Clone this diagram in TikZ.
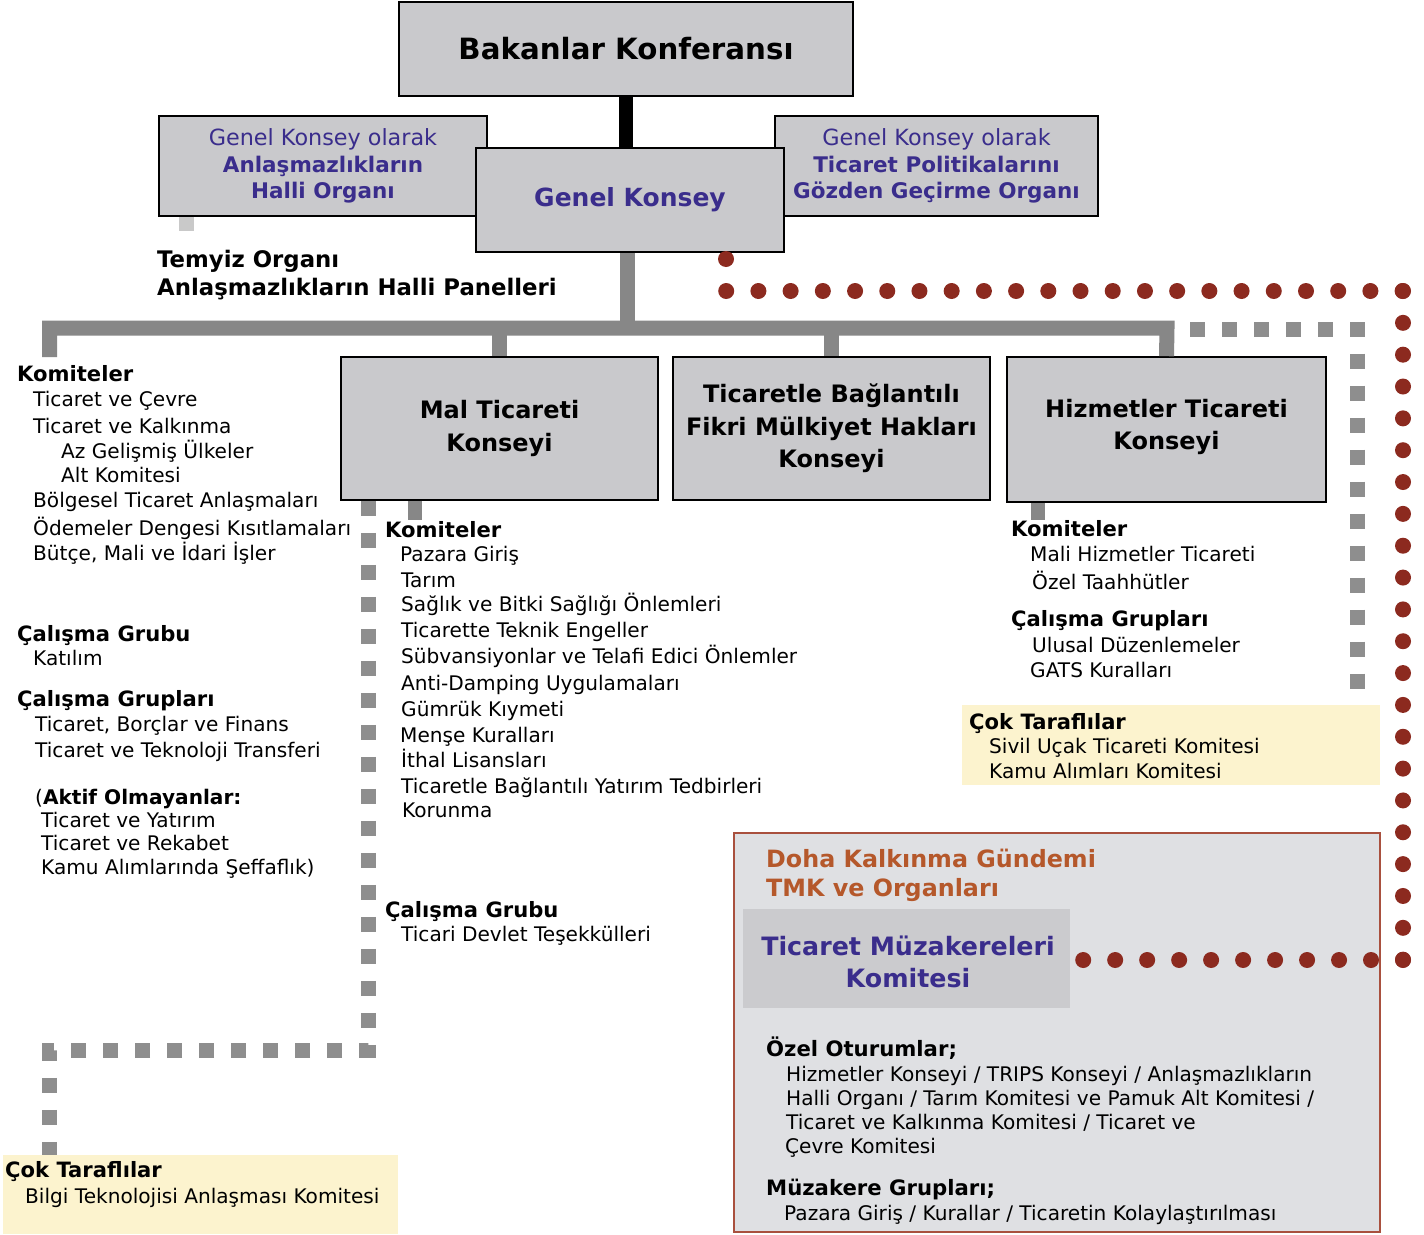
\documentclass[tikz,border=0pt]{standalone}
\usepackage{fontspec}
\setmainfont{DejaVu Sans}
\definecolor{boxgray}{HTML}{C9C9CC}
\definecolor{bargray}{HTML}{878787}
\definecolor{sqgray}{HTML}{8E8E8E}
\definecolor{stubgray}{HTML}{C9C9C9}
\definecolor{purp}{HTML}{3A2D8C}
\definecolor{dotred}{HTML}{8C2A1F}
\definecolor{dohabrown}{HTML}{B5582B}
\definecolor{dohaborder}{HTML}{A9503E}
\definecolor{dohafill}{HTML}{DFE0E3}
\definecolor{tmkfill}{HTML}{CBCBCE}
\definecolor{ylw}{HTML}{FCF3CE}
\begin{document}
\begin{tikzpicture}[x=1pt,y=-1pt,
 box/.style={draw=black,line width=1.6pt,fill=boxgray,inner sep=0,align=center,text=black},
 ttl/.style={font=\bfseries\fontsize{24}{32.5}\selectfont},
 txt/.style={anchor=base west,inner sep=0,font=\fontsize{20.1}{24}\selectfont},
 hd/.style={anchor=base west,inner sep=0,font=\bfseries\fontsize{21.1}{24}\selectfont},
 dtx/.style={anchor=base west,inner sep=0,font=\fontsize{20.1}{24}\selectfont},
 dhd/.style={anchor=base west,inner sep=0,font=\bfseries\fontsize{21.2}{24}\selectfont},
 bar/.style={draw=bargray,line width=15pt},
 sq/.style={draw=sqgray,line width=15pt,dash pattern=on 15pt off 17pt},
 dotline/.style={draw=dotred,line width=16pt,line cap=round,dash pattern=on 0pt off #1}
]
\useasboundingbox[fill=white] (0,0) rectangle (1424,1234);

% ---------- top boxes ----------
\node[box,minimum width=454,minimum height=94,font=\bfseries\fontsize{29.3}{34}\selectfont] (bk) at (626,49) {Bakanlar Konferansı};
\node[box,minimum width=328,minimum height=100,text=purp,font=\fontsize{22.3}{26.5}\selectfont] (dsb) at (323,166) {Genel Konsey olarak\\{\bfseries\fontsize{21.5}{26.5}\selectfont Anlaşmazlıkların}\\{\bfseries\fontsize{21.5}{26.5}\selectfont Halli Organı}};
\node[box,minimum width=323,minimum height=100,text=purp,font=\fontsize{22.3}{26.5}\selectfont] (tprb) at (936.5,166) {Genel Konsey olarak\\{\bfseries\fontsize{21.5}{26.5}\selectfont Ticaret Politikalarını}\\{\bfseries\fontsize{21.5}{26.5}\selectfont Gözden Geçirme Organı}};
\node[box,minimum width=308,minimum height=104,text=purp,font=\bfseries\fontsize{25}{30}\selectfont] (gk) at (630,200) {Genel Konsey};
\draw[line width=14pt,black] (bk.south) -- (bk.south |- gk.north);

% ---------- council boxes ----------
\node[box,ttl,minimum width=317,minimum height=143] (mal) at (499.5,428.5) {Mal Ticareti\\Konseyi};
\node[box,ttl,minimum width=317,minimum height=143] (trips) at (831.5,428.5) {Ticaretle Bağlantılı\\Fikri Mülkiyet Hakları\\Konseyi};
\node[box,ttl,minimum width=319,minimum height=145,text depth=10pt] (hiz) at (1166.5,429.5) {Hizmetler Ticareti\\Konseyi};

% ---------- gray tree ----------
\coordinate (jn) at (627,328);
\coordinate (lk) at (49.5,357);
\coordinate (rk) at (1167,328);
\draw[bar] (gk.south -| jn) -- (jn);
\draw[bar,line join=miter] (lk) -- (lk |- jn) -- (rk) -- (hiz.north);
\draw[bar] (mal.north |- jn) -- (mal.north);
\draw[bar] (trips.north |- jn) -- (trips.north);

% Temyiz stub
\coordinate (ts) at (186.5,231);
\draw[draw=stubgray,line width=15pt] (dsb.south -| ts) -- (ts);
\node[hd,font=\bfseries\fontsize{22.8}{24}\selectfont] (tem1) at (157,267) {Temyiz Organı};
\node[hd,font=\bfseries\fontsize{22.8}{24}\selectfont] (tem2) at (157,295) {Anlaşmazlıkların Halli Panelleri};

% stubs under councils
\coordinate (mk) at (415,520);
\draw[bar,line width=14pt] (mal.south -| mk) -- (mk);
\coordinate (hk) at (1038,520);
\draw[bar,line width=14pt] (hiz.south -| hk) -- (hk);

% ---------- square dashed connectors ----------
\coordinate (sq1) at (1190,329);
\coordinate (sq2) at (1357.5,329);
\coordinate (sq3) at (1357.5,690);
\draw[sq] (sq1) -- (sq2) -- (sq3);
\coordinate (sl2) at (368.5,1050.5);
\coordinate (sl3) at (49.5,1050.5);
\coordinate (sl4) at (49.5,1155);
\draw[sq] (mal.south -| sl2) -- (sl2) -- (sl3) -- (sl4);

% ---------- left column ----------
\node[hd] (lk0) at (17,381) {Komiteler};
\node[txt] (lk1) at (33,406) {Ticaret ve Çevre};
\node[txt] (lk2) at (33,433) {Ticaret ve Kalkınma};
\node[txt] (lk3) at (61,458) {Az Gelişmiş Ülkeler};
\node[txt] (lk4) at (61,482) {Alt Komitesi};
\node[txt] (lk5) at (33,507) {Bölgesel Ticaret Anlaşmaları};
\node[txt] (lk6) at (33,535) {Ödemeler Dengesi Kısıtlamaları};
\node[txt] (lk7) at (33,560) {Bütçe, Mali ve İdari İşler};
\node[hd] (lg0) at (17,641) {Çalışma Grubu};
\node[txt] (lg1) at (33,665) {Katılım};
\node[hd] (lw0) at (17,706) {Çalışma Grupları};
\node[txt] (lw1) at (35,731) {Ticaret, Borçlar ve Finans};
\node[txt] (lw2) at (35,757) {Ticaret ve Teknoloji Transferi};
\node[txt] (la0) at (35,804) {(\textbf{Aktif Olmayanlar:}};
\node[txt] (la1) at (41,827) {Ticaret ve Yatırım};
\node[txt] (la2) at (41,850) {Ticaret ve Rekabet};
\node[txt] (la3) at (41,874) {Kamu Alımlarında Şeffaflık)};

% ---------- middle column ----------
\node[hd] (mk0) at (385,537) {Komiteler};
\node[txt] (mk1) at (400,561) {Pazara Giriş};
\node[txt] (mk2) at (401,587) {Tarım};
\node[txt] (mk3) at (401,611) {Sağlık ve Bitki Sağlığı Önlemleri};
\node[txt] (mk4) at (401,637) {Ticarette Teknik Engeller};
\node[txt] (mk5) at (401,663) {Sübvansiyonlar ve Telafi Edici Önlemler};
\node[txt] (mk6) at (401,690) {Anti-Damping Uygulamaları};
\node[txt] (mk7) at (401,716) {Gümrük Kıymeti};
\node[txt] (mk8) at (400,742) {Menşe Kuralları};
\node[txt] (mk9) at (401,767) {İthal Lisansları};
\node[txt] (mk10) at (401,793) {Ticaretle Bağlantılı Yatırım Tedbirleri};
\node[txt] (mk11) at (402,817) {Korunma};
\node[hd] (mg0) at (385,917) {Çalışma Grubu};
\node[txt] (mg1) at (401,941) {Ticari Devlet Teşekkülleri};

% ---------- right column ----------
\node[hd] (rk0) at (1011,536) {Komiteler};
\node[txt] (rk1) at (1030,561) {Mali Hizmetler Ticareti};
\node[txt] (rk2) at (1032,589) {Özel Taahhütler};
\node[hd] (rg0) at (1011,626) {Çalışma Grupları};
\node[txt] (rg1) at (1032,652) {Ulusal Düzenlemeler};
\node[txt] (rg2) at (1030,677) {GATS Kuralları};

% ---------- plurilaterals ----------
\node[fill=ylw,inner sep=0,minimum width=418,minimum height=80] (ctr) at (1171,745) {};
\node[hd] (ctr0) at (969,729) {Çok Taraflılar};
\node[txt] (ctr1) at (989,753) {Sivil Uçak Ticareti Komitesi};
\node[txt] (ctr2) at (989,778) {Kamu Alımları Komitesi};

\node[fill=ylw,inner sep=0,minimum width=395,minimum height=79] (ctl) at (200.5,1194.5) {};
\node[hd] (ctl0) at (5,1177) {Çok Taraflılar};
\node[txt] (ctl1) at (25,1203) {Bilgi Teknolojisi Anlaşması Komitesi};

% ---------- Doha box ----------
\node[draw=dohaborder,line width=2pt,fill=dohafill,inner sep=0,minimum width=646,minimum height=399] (doha) at (1057,1032.5) {};
\node[fill=tmkfill,inner sep=0,minimum width=327,minimum height=99] (tmk) at (906.5,958.5) {};
\node[text=purp,align=center,inner sep=0,font=\bfseries\fontsize{25.3}{32}\selectfont] (tmkl) at (908,962) {Ticaret Müzakereleri\\Komitesi};
\node[anchor=base west,inner sep=0,text=dohabrown,font=\bfseries\fontsize{23.8}{24}\selectfont] (dh1) at (766,867) {Doha Kalkınma Gündemi};
\node[anchor=base west,inner sep=0,text=dohabrown,font=\bfseries\fontsize{23.8}{24}\selectfont] (dh2) at (766,896) {TMK ve Organları};
\node[dhd] (oz0) at (766,1056) {Özel Oturumlar;};
\node[dtx] (oz1) at (786,1081) {Hizmetler Konseyi / TRIPS Konseyi / Anlaşmazlıkların};
\node[dtx] (oz2) at (786,1105) {Halli Organı / Tarım Komitesi ve Pamuk Alt Komitesi /};
\node[dtx] (oz3) at (786,1129) {Ticaret ve Kalkınma Komitesi / Ticaret ve};
\node[dtx] (oz4) at (785,1153) {Çevre Komitesi};
\node[dhd] (mz0) at (766,1195) {Müzakere Grupları;};
\node[dtx] (mz1) at (784,1220) {Pazara Giriş / Kurallar / Ticaretin Kolaylaştırılması};

% ---------- red dotted connector ----------
\coordinate (d0) at (726,259);
\coordinate (d1) at (726,291);
\coordinate (d2) at (1403,291);
\coordinate (d3) at (1403,960);
\coordinate (d4) at (1083,960);
\draw[dotline=32.21pt] (d0) -- (d1) -- (d2);
\draw[dotline=31.84pt] (d2) -- (d3);
\draw[dotline=31.98pt] (d3) -- (d4);
\end{tikzpicture}
\end{document}
